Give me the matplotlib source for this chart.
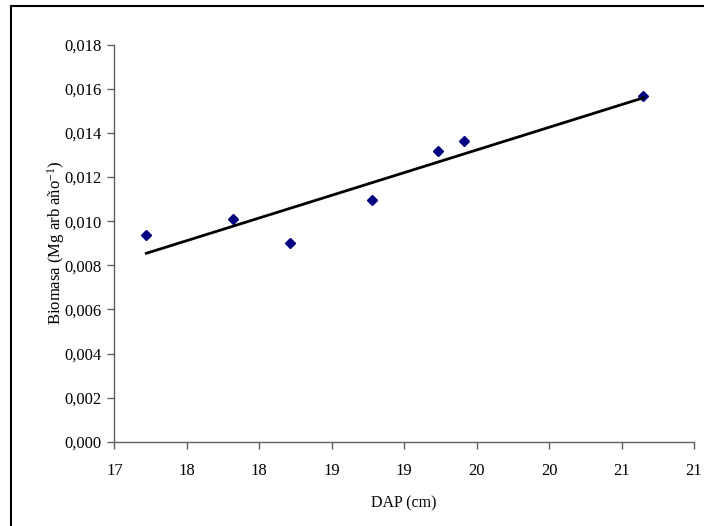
import matplotlib
matplotlib.use("Agg")
import matplotlib.pyplot as plt
import numpy as np
from matplotlib.patches import Rectangle
from matplotlib.ticker import FuncFormatter, MultipleLocator

# Datos
dap_cm = [17.22, 17.82, 18.21, 18.78, 19.23, 19.41, 20.65]
biomasa = [0.00938, 0.01011, 0.00902, 0.01096, 0.01320, 0.01362, 0.01566]

plt.rcParams['font.family'] = ['Liberation Serif', 'DejaVu Serif']
plt.rcParams['mathtext.fontset'] = 'custom'
plt.rcParams['mathtext.rm'] = 'Liberation Serif'
plt.rcParams['mathtext.it'] = 'Liberation Serif:italic'

fig = plt.figure(figsize=(7.04, 5.26), dpi=100)
ax = fig.add_axes([0.1626, 0.1599, 0.8232, 0.7553])

# Marco exterior del gráfico (solo se ven borde superior e izquierdo)
fig.patches.append(Rectangle((11 / 704, -0.05), 1.2, 1 - 6 / 526 + 0.05,
                             transform=fig.transFigure, fill=False,
                             edgecolor='black', linewidth=1.5))

# Puntos
ax.plot(dap_cm, biomasa, linestyle='none', marker='D', markersize=5.5,
        color='#000080')

# Línea de tendencia lineal
pend, inter = np.polyfit(dap_cm, biomasa, 1)
x_tend = np.array([min(dap_cm), max(dap_cm)])
ax.plot(x_tend, pend * x_tend + inter, color='black', linewidth=2)

ax.set_xlim(17, 21)
ax.set_ylim(0, 0.018)
ax.xaxis.set_major_locator(MultipleLocator(0.5))
ax.yaxis.set_major_locator(MultipleLocator(0.002))
# Etiquetas estilo Excel: enteros redondeados hacia arriba en .5
ax.xaxis.set_major_formatter(FuncFormatter(lambda v, p: f"{int(np.floor(v + 0.5))}"))
ax.yaxis.set_major_formatter(FuncFormatter(lambda v, p: f"{v:.3f}".replace('.', ',')))

for lado in ['top', 'right']:
    ax.spines[lado].set_visible(False)
for lado in ['left', 'bottom']:
    ax.spines[lado].set_color('#606060')
    ax.spines[lado].set_linewidth(1)
ax.tick_params(axis='both', direction='out', length=5, width=1, color='#606060',
               labelsize=12, labelcolor='black', pad=4)
ax.tick_params(axis='x', pad=10)

ax.set_xlabel("DAP (cm)", fontsize=11.5, labelpad=12)
ax.set_ylabel("Biomasa (Mg arb año$^{-1}$)", fontsize=12, labelpad=-2)

fig.savefig("out.png", dpi=100)
